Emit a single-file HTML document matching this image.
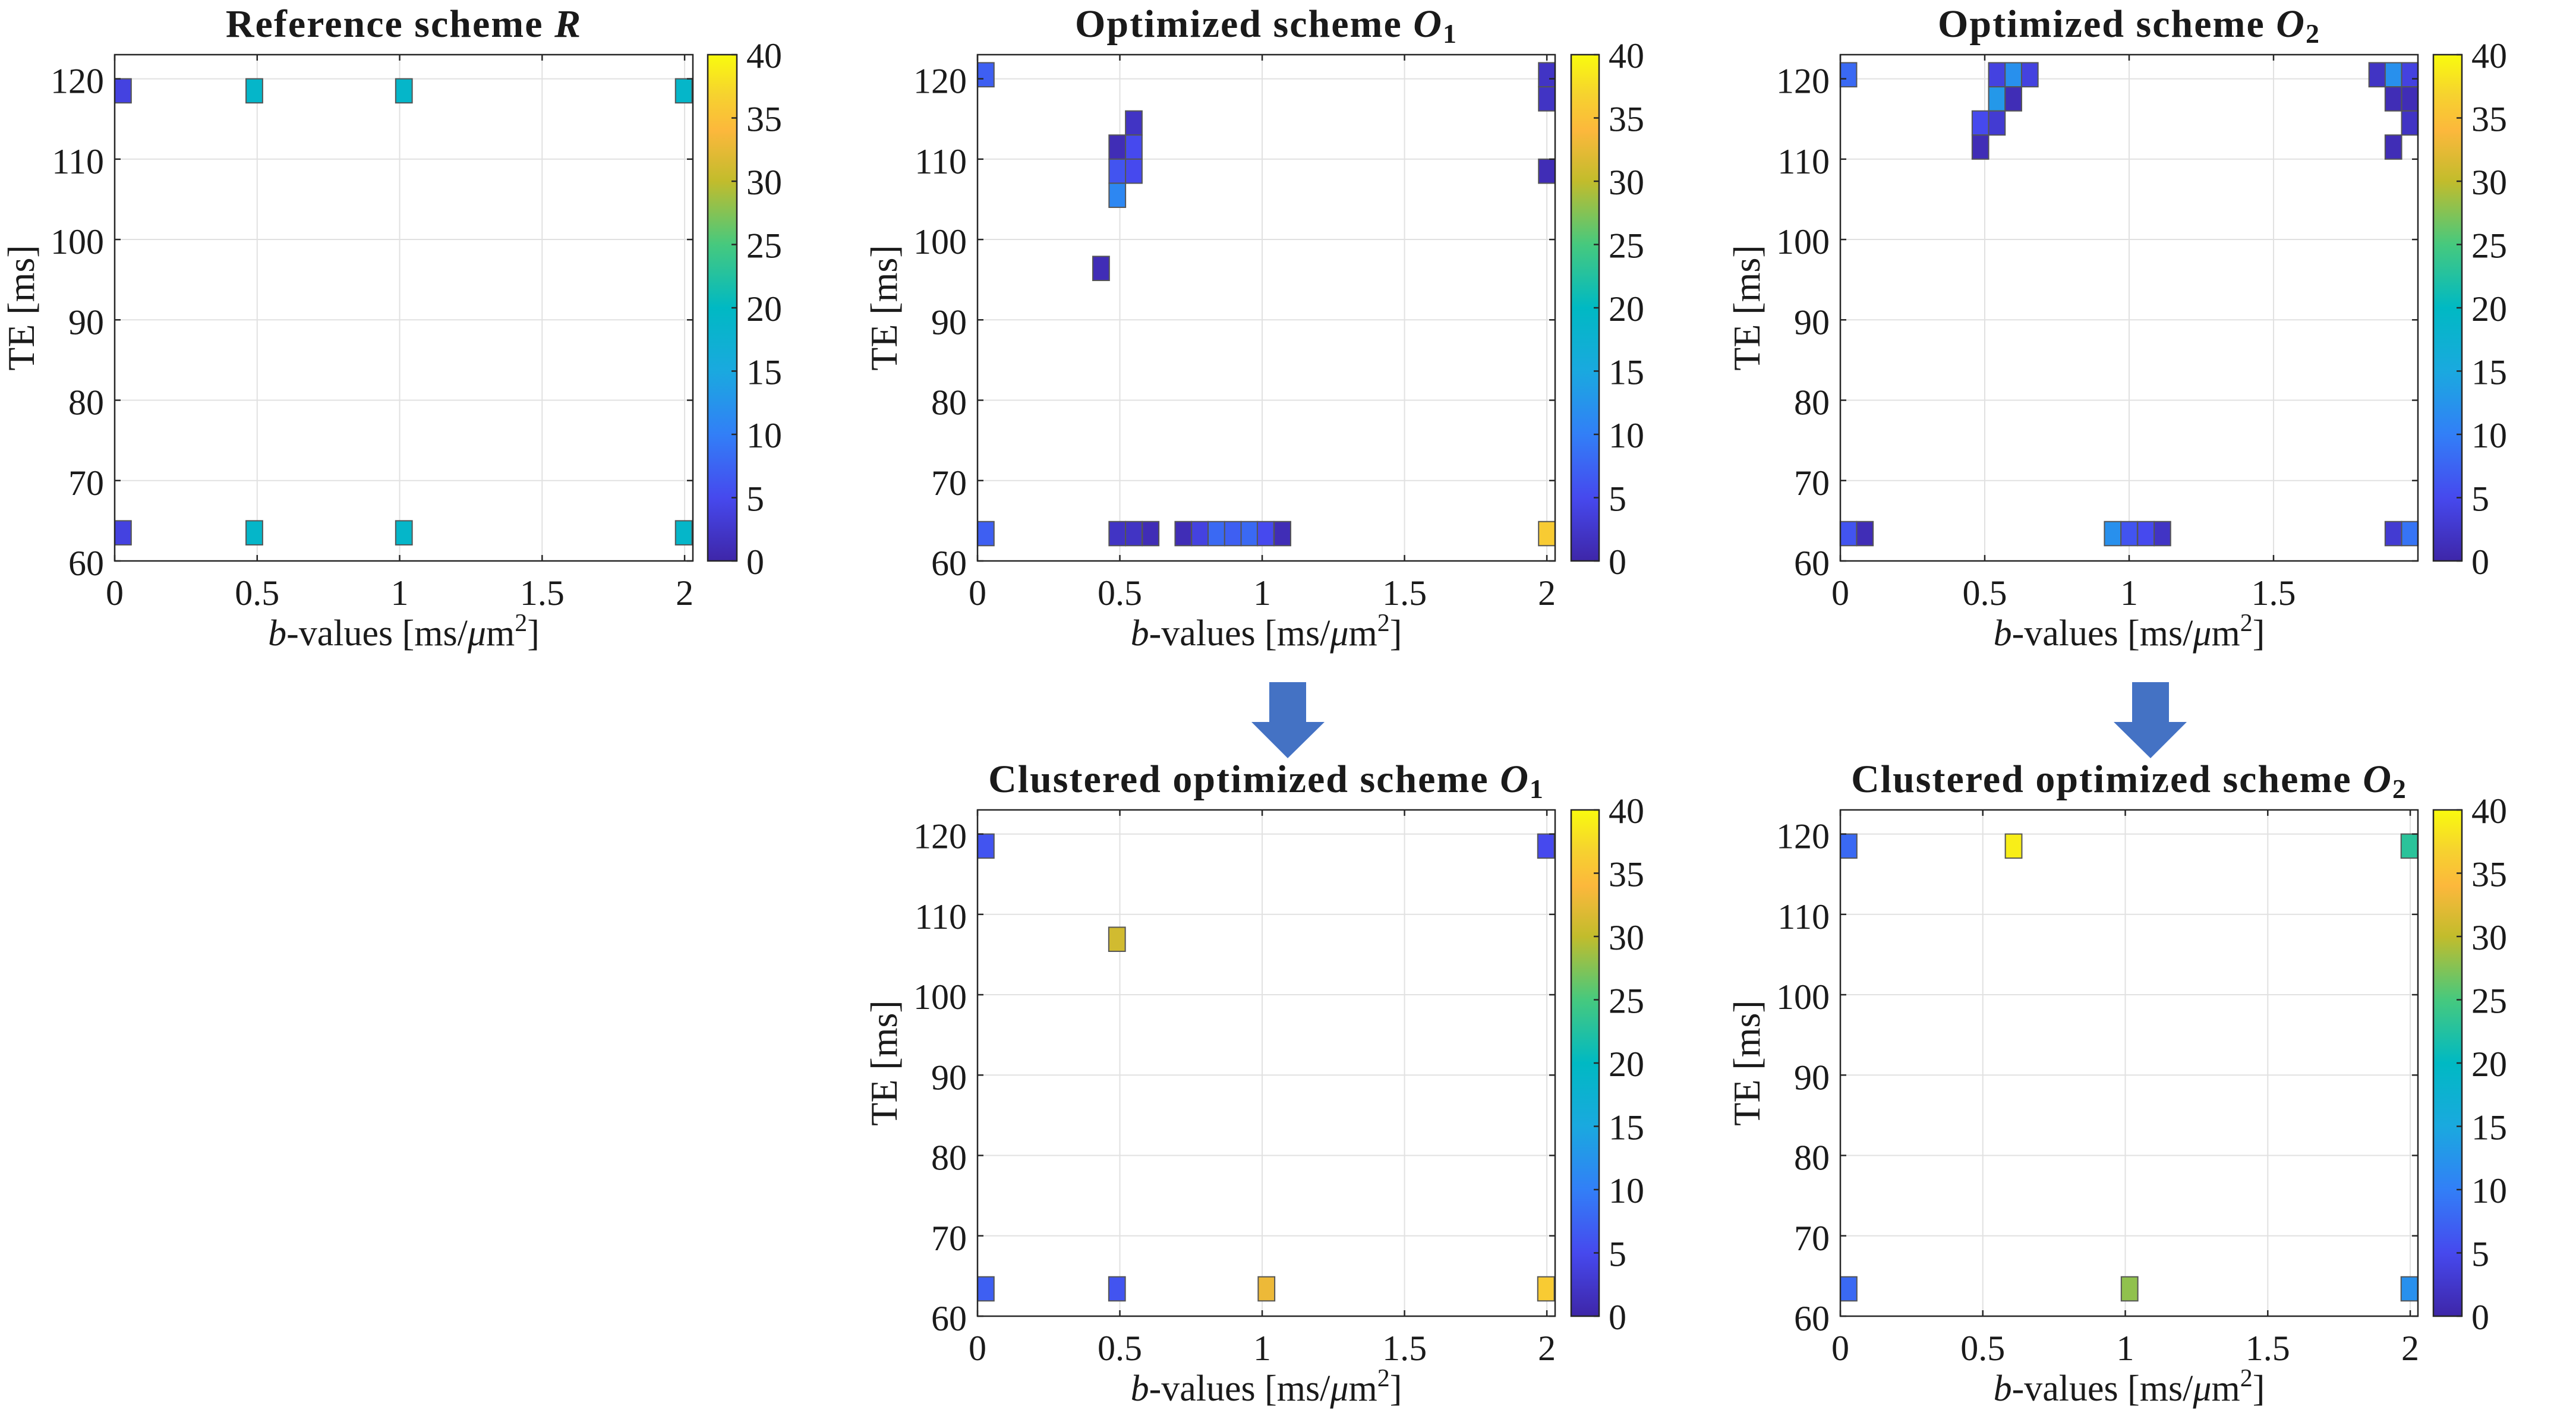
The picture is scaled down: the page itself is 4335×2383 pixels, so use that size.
<!DOCTYPE html>
<html><head><meta charset="utf-8">
<style>
html,body{margin:0;padding:0;background:#fff;}
svg{display:block;}
text{font-family:"Liberation Serif",serif;fill:#1a1a1a;}
</style></head>
<body>
<svg id="fig" width="4335" height="2383" viewBox="0 0 4335 2383" xmlns="http://www.w3.org/2000/svg">
<defs>
<linearGradient id="parula" x1="0" y1="1" x2="0" y2="0">
<stop offset="0" stop-color="#3e26a8"/>
<stop offset="0.125" stop-color="#4649ee"/>
<stop offset="0.25" stop-color="#327ff7"/>
<stop offset="0.375" stop-color="#1aa9df"/>
<stop offset="0.5" stop-color="#00b9c3"/>
<stop offset="0.625" stop-color="#46c97e"/>
<stop offset="0.75" stop-color="#c2bc2c"/>
<stop offset="0.85" stop-color="#fcb83c"/>
<stop offset="0.92" stop-color="#f6d22f"/>
<stop offset="1" stop-color="#f9fb0e"/>
</linearGradient>
</defs>
<g><polygon points="2136,1148 2198,1148 2198,1215 2229,1215 2167,1276 2106,1215 2136,1215" fill="#4472c4"/></g>
<g><polygon points="3588,1148 3650,1148 3650,1215 3680,1215 3619,1276 3557,1215 3588,1215" fill="#4472c4"/></g>
</svg>
<script>
// ---- data ----
const refB = [0.029, 0.49, 1.015, 1.997, 0.029, 0.49, 1.015, 1.997];
const refTE = [118.5, 118.5, 118.5, 118.5, 63.5, 63.5, 63.5, 63.5];
const refCount = [4, 19, 19, 19, 4, 19, 19, 19];

const o1B = [0.029, 2.0, 2.0, 2.0, 0.491, 0.491, 0.491, 0.549, 0.549, 0.549, 0.434,
  0.029, 0.491, 0.549, 0.608, 0.723, 0.781, 0.839, 0.897, 0.955, 1.012, 1.071, 2.0];
const o1TE = [120.5, 120.5, 117.5, 108.5, 111.5, 108.5, 105.5, 114.5, 111.5, 108.5, 96.4,
  63.4, 63.4, 63.4, 63.4, 63.4, 63.4, 63.4, 63.4, 63.4, 63.4, 63.4, 63.4];
const o1Count = [7, 2, 2, 1, 1, 6, 11, 2, 5, 5, 1,
  7, 2, 2, 1, 1, 4, 8, 7, 8, 5, 1, 36];

const o2B = [0.028, 0.542, 0.599, 0.656, 1.859, 1.915, 1.972,
  0.542, 0.599, 1.915, 1.972,
  0.485, 0.542, 1.972,
  0.485, 1.915,
  0.028, 0.085, 0.943, 1.0, 1.058, 1.115, 1.915, 1.972];
const o2TE = [120.5, 120.5, 120.5, 120.5, 120.5, 120.5, 120.5,
  117.5, 117.5, 117.5, 117.5,
  114.5, 114.5, 114.5,
  111.5, 111.5,
  63.4, 63.4, 63.4, 63.4, 63.4, 63.4, 63.4, 63.4];
const o2Count = [8, 4, 12, 4, 2, 12, 4,
  13, 1, 1, 1,
  5, 3, 2,
  1, 1,
  6, 1, 12, 6, 5, 2, 3, 9];

const c1B = [0.029, 1.997, 0.49, 0.029, 0.49, 1.015, 1.997];
const c1TE = [118.5, 118.5, 106.9, 63.4, 63.4, 63.4, 63.4];
const c1Count = [6, 5, 31, 7, 6, 33, 36];

const c2B = [0.029, 0.608, 1.997, 0.029, 1.015, 1.997];
const c2TE = [118.5, 118.5, 118.5, 63.4, 63.4, 63.4];
const c2Count = [8, 39, 23, 8, 28, 12];

const yTickLabels = ["60", "70", "80", "90", "100", "110", "120"];
const xTickLabelsFull = ["0", "0.5", "1", "1.5", "2"];
const xTickLabelsShort = ["0", "0.5", "1", "1.5"];
const cbTickLabels = ["0", "5", "10", "15", "20", "25", "30", "35", "40"];

// ---- colormap ----
const stops = [[0,[62,38,168]],[0.125,[70,73,238]],[0.25,[50,127,247]],[0.375,[26,169,223]],
 [0.5,[0,185,195]],[0.625,[70,201,126]],[0.75,[194,188,44]],[0.85,[252,184,60]],[0.92,[246,210,47]],[1,[249,251,14]]];
function parula(t){
  t=Math.max(0,Math.min(1,t));
  for(let i=1;i<stops.length;i++){
    if(t<=stops[i][0]){
      const a=stops[i-1],b=stops[i],f=(t-a[0])/(b[0]-a[0]);
      const c=a[1].map((v,k)=>Math.round(v+(b[1][k]-v)*f));
      return `rgb(${c[0]},${c[1]},${c[2]})`;
    }
  }
  return 'rgb(249,251,14)';
}

const NS="http://www.w3.org/2000/svg";
const svg=document.getElementById('fig');
function mk(tag,attrs,parent){
  const e=document.createElementNS(NS,tag);
  for(const k in attrs)e.setAttribute(k,attrs[k]);
  parent.appendChild(e);return e;
}

function drawPlot(id, L, bArr, teArr, cArr, cellW, xmax, xLabels, titleMain, titleSub){
  const g=mk('g',{},svg);
  
  
  const ymin=60,ymax=123;
  const sx=v=>L.x0+(v/xmax)*(L.x1-L.x0);
  const sy=v=>L.y1-(v-ymin)/(ymax-ymin)*(L.y1-L.y0);
  const grid=mk('g',{},g);
  
  
  xLabels.forEach((lab,i)=>{const x=sx(i*0.5);
    mk('line',{x1:x,x2:x,y1:L.y0,y2:L.y1,stroke:'#e1e1e1','stroke-width':2},grid);});
  yTickLabels.forEach((lab,i)=>{const y=sy(60+i*10);
    mk('line',{x1:L.x0,x2:L.x1,y1:y,y2:y,stroke:'#e1e1e1','stroke-width':2},grid);});
  const cells=mk('g',{},g);
  
  
  for(let i=0;i<bArr.length;i++){
    const xa=sx(bArr[i]-cellW/2), xb=sx(bArr[i]+cellW/2);
    const ya=sy(teArr[i]+1.5), yb=sy(teArr[i]-1.5);
    const r=mk('rect',{x:xa,y:ya,width:xb-xa,height:yb-ya,fill:parula(cArr[i]/40),stroke:'#555','stroke-width':2},cells);
    
    
  }
  const ax=mk('g',{},g);
  
  
  mk('rect',{x:L.x0,y:L.y0,width:L.x1-L.x0,height:L.y1-L.y0,fill:'none',stroke:'#262626','stroke-width':2.5},ax);
  xLabels.forEach((lab,i)=>{const x=sx(i*0.5);
    mk('line',{x1:x,x2:x,y1:L.y1,y2:L.y1-10,stroke:'#262626','stroke-width':2.5},ax);
    mk('line',{x1:x,x2:x,y1:L.y0,y2:L.y0+10,stroke:'#262626','stroke-width':2.5},ax);
    const t=mk('text',{x:x,y:L.y1+74,'font-size':60,'text-anchor':'middle'},ax);
    t.textContent=lab;
    
    
  });
  yTickLabels.forEach((lab,i)=>{const y=sy(60+i*10);
    mk('line',{x1:L.x0,x2:L.x0+10,y1:y,y2:y,stroke:'#262626','stroke-width':2.5},ax);
    mk('line',{x1:L.x1,x2:L.x1-10,y1:y,y2:y,stroke:'#262626','stroke-width':2.5},ax);
    const t=mk('text',{x:L.x0-18,y:y+24,'font-size':60,'text-anchor':'end'},ax);
    t.textContent=lab;
    
    
  });
  const xt=mk('text',{x:(L.x0+L.x1)/2,y:L.y1+142,'font-size':62,'text-anchor':'middle'},g);
  
  
  const ti=mk('tspan',{'font-style':'italic'},xt);ti.textContent='b';
  const t2=mk('tspan',{},xt);t2.textContent='-values [ms/';
  const t3=mk('tspan',{'font-style':'italic'},xt);t3.textContent='μ';
  const t4=mk('tspan',{},xt);t4.textContent='m';
  const t5=mk('tspan',{'font-size':42,dy:-24},xt);t5.textContent='2';
  const t6=mk('tspan',{dy:24},xt);t6.textContent=']';
  const yc=(L.y0+L.y1)/2;
  const yt=mk('text',{x:L.x0-136,y:yc,'font-size':64,'text-anchor':'middle',transform:`rotate(-90 ${L.x0-136} ${yc})`},g);
  yt.textContent='TE [ms]';
  
  
  const tt=mk('text',{x:(L.x0+L.x1)/2,y:L.y0-30,'font-size':66,'font-weight':'bold','letter-spacing':2,'text-anchor':'middle'},g);
  
  
  const m1=mk('tspan',{},tt);m1.textContent=titleMain+' ';
  const m2=mk('tspan',{'font-style':'italic'},tt);m2.textContent=titleSub[0];
  if(titleSub.length>1){const m3=mk('tspan',{'font-size':46,dy:10},tt);m3.textContent=titleSub[1];}
  const cb=mk('g',{},g);
  
  
  mk('rect',{x:L.cb0,y:L.y0,width:L.cb1-L.cb0,height:L.y1-L.y0,fill:'url(#parula)',stroke:'#262626','stroke-width':2.5},cb);
  cbTickLabels.forEach((lab,i)=>{const y=L.y1-(i*5/40)*(L.y1-L.y0);
    mk('line',{x1:L.cb1,x2:L.cb1-9,y1:y,y2:y,stroke:'#262626','stroke-width':2.5},cb);
    const t=mk('text',{x:L.cb1+16,y:y+22,'font-size':60,'text-anchor':'start'},cb);
    t.textContent=lab;
    
    
  });
}

drawPlot('plot-reference-scheme',{x0:193,x1:1166,y0:92,y1:944,cb0:1191,cb1:1240},refB,refTE,refCount,0.058,2.029,xTickLabelsFull,'Reference scheme',['R']);
drawPlot('plot-optimized-o1',{x0:1645,x1:2617,y0:92,y1:944,cb0:2644,cb1:2691},o1B,o1TE,o1Count,0.058,2.029,xTickLabelsFull,'Optimized scheme',['O','1']);
drawPlot('plot-optimized-o2',{x0:3097,x1:4069,y0:92,y1:944,cb0:4095,cb1:4143},o2B,o2TE,o2Count,0.057,2.0,xTickLabelsShort,'Optimized scheme',['O','2']);
drawPlot('plot-clustered-o1',{x0:1645,x1:2617,y0:1363,y1:2215,cb0:2644,cb1:2691},c1B,c1TE,c1Count,0.058,2.029,xTickLabelsFull,'Clustered optimized scheme',['O','1']);
drawPlot('plot-clustered-o2',{x0:3097,x1:4069,y0:1363,y1:2215,cb0:4095,cb1:4143},c2B,c2TE,c2Count,0.058,2.027,xTickLabelsFull,'Clustered optimized scheme',['O','2']);
</script>
</body></html>
